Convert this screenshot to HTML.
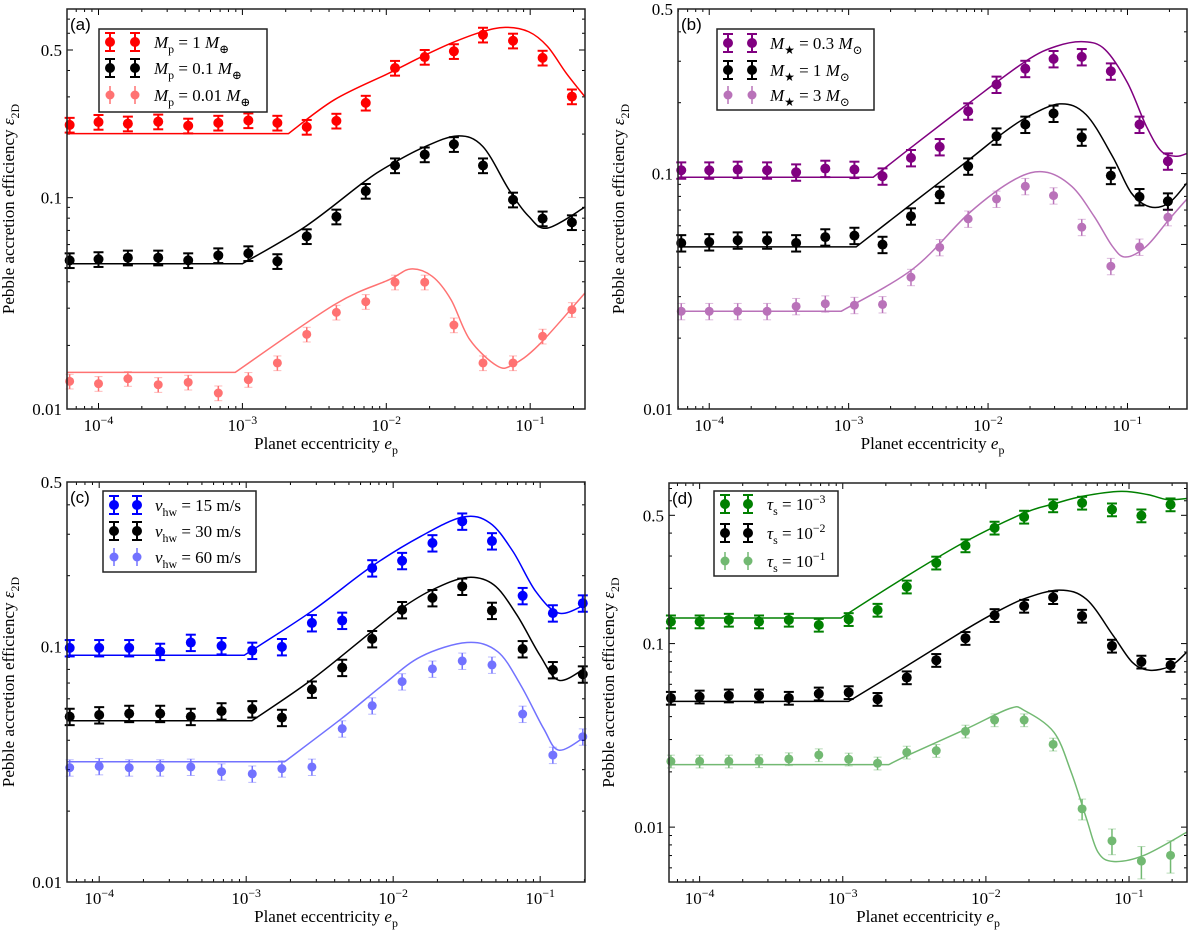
<!DOCTYPE html>
<html><head><meta charset="utf-8"><title>Pebble accretion efficiency</title>
<style>
html,body{margin:0;padding:0;background:#fff;}
svg{display:block;font-family:"Liberation Serif","DejaVu Serif",serif;}
</style></head>
<body>
<svg id="fig" width="1200" height="930" viewBox="0 0 1200 930" xmlns="http://www.w3.org/2000/svg"></svg>
<script>
// ---------- data ----------
const epsX = [6.3e-5,1.0e-4,1.6e-4,2.6e-4,4.2e-4,6.8e-4,1.1e-3,1.75e-3,2.8e-3,4.5e-3,7.2e-3,1.15e-2,1.85e-2,2.95e-2,4.7e-2,7.6e-2,1.22e-1,1.95e-1];

// panel a
const aRed = [0.221,0.228,0.224,0.229,0.219,0.226,0.232,0.226,0.216,0.231,0.281,0.411,0.463,0.493,0.590,0.553,0.459,0.301];
const aBlack = [0.0505,0.0511,0.052,0.052,0.0505,0.0533,0.0545,0.0500,0.0656,0.0813,0.1075,0.142,0.160,0.179,0.142,0.0978,0.0796,0.0764];
const aLight = [0.01352,0.01318,0.01392,0.01303,0.01337,0.0119,0.01377,0.01651,0.02256,0.02866,0.0322,0.0398,0.0398,0.02496,0.01651,0.01651,0.02208,0.0295];
const aRedCurveLogE = [-4.22,-2.68,-2.36,-1.98,-1.75,-1.545,-1.34,-1.174,-1.01,-0.88,-0.75,-0.619];
const aRedCurveVal = [0.201,0.201,0.291,0.389,0.466,0.540,0.608,0.640,0.610,0.520,0.389,0.300];
const aBlackCurveLogE = [-4.22,-3.0,-2.56,-2.16,-1.98,-1.75,-1.507,-1.33,-1.147,-1.01,-0.88,-0.619];
const aBlackCurveVal = [0.0487,0.0487,0.0732,0.118,0.142,0.172,0.196,0.175,0.109,0.0816,0.0718,0.0903];
const aLightCurveLogE = [-4.22,-3.05,-2.36,-1.98,-1.83,-1.68,-1.55,-1.42,-1.23,-1.12,-0.94,-0.619];
const aLightCurveVal = [0.01491,0.01491,0.0312,0.0409,0.046,0.0424,0.0329,0.0213,0.016,0.0162,0.0201,0.0354];

// panel b
const bPurple = [0.1033,0.1033,0.104,0.1033,0.1013,0.105,0.104,0.0974,0.1166,0.1298,0.184,0.239,0.279,0.307,0.313,0.272,0.1616,0.1128];
const bBlack = [0.0507,0.0512,0.0521,0.0521,0.0507,0.0537,0.0545,0.0499,0.0659,0.0814,0.1074,0.144,0.1616,0.180,0.1426,0.098,0.0796,0.0763];
const bLight = [0.026,0.026,0.026,0.026,0.0273,0.028,0.0276,0.0278,0.0363,0.0486,0.0642,0.078,0.0883,0.0806,0.0592,0.0404,0.0488,0.0652];
const bPurpleCurveLogE = [-4.23,-2.824,-2.54,-2.135,-1.73,-1.513,-1.31,-1.16,-1.0,-0.865,-0.757,-0.65,-0.573];
const bPurpleCurveVal = [0.0965,0.0965,0.1307,0.1996,0.300,0.347,0.363,0.336,0.243,0.159,0.1244,0.1185,0.1217];
const bBlackCurveLogE = [-4.23,-2.946,-2.54,-2.135,-1.924,-1.73,-1.486,-1.297,-1.108,-0.973,-0.838,-0.703,-0.573];
const bBlackCurveVal = [0.0488,0.0488,0.075,0.1147,0.144,0.1724,0.1977,0.178,0.1185,0.0828,0.0722,0.075,0.0913];
const bLightCurveLogE = [-4.23,-3.054,-2.54,-2.135,-1.81,-1.594,-1.40,-1.24,-1.108,-1.013,-0.865,-0.703,-0.573];
const bLightCurveVal = [0.026,0.026,0.0393,0.068,0.0943,0.1016,0.0883,0.0659,0.0491,0.0442,0.0491,0.0637,0.078];

// panel c
const cBlue = [0.0987,0.0987,0.0987,0.0952,0.104,0.1007,0.0962,0.0997,0.126,0.129,0.2155,0.2315,0.2753,0.3404,0.2807,0.1643,0.1387,0.1528];
const cBlack = [0.0504,0.0512,0.0519,0.0519,0.0504,0.0532,0.0543,0.0499,0.0658,0.0814,0.1078,0.1432,0.161,0.180,0.1422,0.0977,0.0796,0.0763];
const cLight = [0.0306,0.031,0.0306,0.0306,0.0308,0.0294,0.0288,0.0303,0.0308,0.0448,0.0561,0.071,0.0804,0.0869,0.0836,0.0517,0.0346,0.0414];
const cBlueCurveLogE = [-4.22,-3.013,-2.556,-2.146,-1.812,-1.525,-1.342,-1.186,-1.03,-0.873,-0.695];
const cBlueCurveVal = [0.0919,0.0919,0.141,0.219,0.294,0.355,0.335,0.254,0.1714,0.1387,0.1504];
const cBlackCurveLogE = [-4.22,-2.961,-2.556,-2.146,-1.942,-1.733,-1.498,-1.316,-1.159,-1.003,-0.873,-0.695];
const cBlackCurveVal = [0.0484,0.0484,0.0722,0.1158,0.1456,0.1743,0.1966,0.183,0.1364,0.0921,0.0719,0.0809];
const cLightCurveLogE = [-4.22,-2.739,-2.35,-2.07,-1.812,-1.498,-1.29,-1.133,-0.977,-0.873,-0.695];
const cLightCurveVal = [0.0324,0.0324,0.0495,0.0687,0.0906,0.104,0.0952,0.0687,0.0449,0.0363,0.0414];

// panel d
const dGreen = [0.1317,0.1317,0.1345,0.1317,0.1345,0.1263,0.1356,0.1524,0.204,0.2755,0.342,0.427,0.490,0.565,0.584,0.537,0.498,0.572];
const dBlack = [0.0505,0.0513,0.052,0.052,0.0505,0.0533,0.0542,0.0498,0.0653,0.0812,0.107,0.1426,0.1602,0.1786,0.1414,0.0971,0.0795,0.0763];
const dLight = [0.02284,0.02284,0.02284,0.02293,0.02351,0.02472,0.02342,0.02228,0.02555,0.02609,0.03326,0.03832,0.03832,0.02825,0.01258,0.00842,0.00653,0.00702];
const dLightErr = [0.08,0.08,0.08,0.08,0.08,0.08,0.08,0.08,0.08,0.08,0.08,0.08,0.08,0.08,0.13,0.16,0.2,0.2];
const dGreenCurveLogE = [-4.22,-3.013,-2.552,-2.139,-1.731,-1.525,-1.324,-1.056,-0.868,-0.734,-0.595];
const dGreenCurveVal = [0.1379,0.1379,0.2332,0.361,0.515,0.577,0.635,0.675,0.648,0.609,0.617];
const dBlackCurveLogE = [-4.22,-2.959,-2.552,-2.139,-1.935,-1.731,-1.485,-1.297,-1.109,-0.975,-0.855,-0.708,-0.595];
const dBlackCurveVal = [0.0484,0.0484,0.0756,0.1196,0.1474,0.1757,0.1957,0.1742,0.1101,0.0788,0.0716,0.0756,0.0901];
const dLightCurveLogE = [-4.22,-2.678,-2.552,-2.139,-1.834,-1.731,-1.525,-1.404,-1.297,-1.217,-1.109,-0.895,-0.595];
const dLightCurveVal = [0.02191,0.02191,0.02452,0.03424,0.0443,0.0432,0.0329,0.01991,0.0111,0.00731,0.0065,0.00702,0.0094];

const xTickExps = [-4,-3,-2,-1];
const yTickLabels = [0.01,0.1,0.5];

// ---------- drawing ----------
const NS = "http://www.w3.org/2000/svg";
const svg = document.getElementById('fig');
function el(tag, attrs, parent){
  const e = document.createElementNS(NS, tag);
  for (const k in attrs) e.setAttribute(k, attrs[k]);
  (parent||svg).appendChild(e);
  return e;
}
function makeText(parent, x, y, parts, size, anchor){
  const t = el('text', {x:x, y:y, 'font-size':size, 'text-anchor':anchor||'start', fill:'#000'}, parent);
  parts.forEach(p=>{
    const s = document.createElementNS(NS,'tspan');
    s.textContent = p.t;
    if (p.i) s.setAttribute('font-style','italic');
    if (p.sub){ s.setAttribute('font-size', size*0.7); s.setAttribute('dy', size*0.28); }
    if (p.sup){ s.setAttribute('font-size', size*0.7); s.setAttribute('dy', -size*0.42); }
    if (p.back){ s.setAttribute('dy', p.back); }
    t.appendChild(s);
  });
  return t;
}

function drawPanel(P){
  const g = el('g', {});
  
  
  const X = e => P.x0 + (Math.log10(e)-P.xl[0])/(P.xl[1]-P.xl[0])*P.w;
  const XL = l => P.x0 + (l-P.xl[0])/(P.xl[1]-P.xl[0])*P.w;
  const Y = v => P.y0 + P.h - (Math.log10(v)-P.yl[0])/(P.yl[1]-P.yl[0])*P.h;
  const clipId = 'clip'+P.id;
  const cp = el('clipPath', {id:clipId}, g);
  el('rect', {x:P.x0, y:P.y0, width:P.w, height:P.h}, cp);

  // ticks
  const tg = el('g', {stroke:'#000','stroke-width':1}, g);
  
  
  for (let d=-5; d<=0; d++){
    for (let m=1; m<=9; m++){
      const l = d + Math.log10(m);
      if (l < P.xl[0] || l > P.xl[1]) continue;
      const px = XL(l), len = m===1?6:3;
      el('line',{x1:px,y1:P.y0+P.h,x2:px,y2:P.y0+P.h-len},tg);
      el('line',{x1:px,y1:P.y0,x2:px,y2:P.y0+len},tg);
    }
  }
  const YLl = l => P.y0 + P.h - (l-P.yl[0])/(P.yl[1]-P.yl[0])*P.h;
  for (let d=-3; d<=0; d++){
    for (let m=1; m<=9; m++){
      const l = d + Math.log10(m);
      if (l < P.yl[0]-1e-6 || l > P.yl[1]+1e-6) continue;
      const py = YLl(l), len = (m===1||m===5)?6:3;
      el('line',{x1:P.x0,y1:py,x2:P.x0+len,y2:py},tg);
      el('line',{x1:P.x0+P.w,y1:py,x2:P.x0+P.w-len,y2:py},tg);
    }
  }
  // tick labels
  xTickExps.forEach(ex=>{
    const px = X(Math.pow(10,ex));
    const t = makeText(g, px, P.y0+P.h+22, [{t:'10'},{t:'−'+(-ex), sup:true}], 17, 'middle');
    
    
  });
  yTickLabels.forEach(v=>{
    const t = makeText(g, P.x0-5, Y(v)+6, [{t:String(v)}], 17, 'end');
    
    
  });
  // axis titles
  const xt = makeText(g, P.x0+P.w/2, P.y0+P.h+40, [{t:'Planet eccentricity '},{t:'e',i:true},{t:'p',sub:true}], 17, 'middle');
  
  
  const yt = makeText(g, 0, 0, [{t:'Pebble accretion efficiency '},{t:'ε',i:true},{t:'2D',sub:true}], 17, 'middle');
  yt.setAttribute('transform','translate('+P.ylx+','+(P.y0+P.h/2)+') rotate(-90)');
  
  

  // series
  P.series.forEach((s, si)=>{
    const sg = el('g', {opacity:s.alpha}, g);
    
    
    // curve
    const pts = s.cx.map((l,i)=>[XL(l), Y(s.cy[i])]);
    let d = 'M'+pts[0][0]+','+pts[0][1]+' L'+pts[1][0]+','+pts[1][1];
    for (let i=1;i<pts.length-1;i++){
      const p0 = pts[i===1?1:i-1], p1=pts[i], p2=pts[i+1], p3=pts[Math.min(i+2,pts.length-1)];
      const c1x = p1[0]+(p2[0]-p0[0])/6, c1y = p1[1]+(p2[1]-p0[1])/6;
      const c2x = p2[0]-(p3[0]-p1[0])/6, c2y = p2[1]-(p3[1]-p1[1])/6;
      d += ' C'+c1x+','+c1y+' '+c2x+','+c2y+' '+p2[0]+','+p2[1];
    }
    const path = el('path',{d:d, fill:'none', stroke:s.color, 'stroke-width':1.5, 'clip-path':'url(#'+clipId+')'}, sg);
    
    
    // points
    s.y.forEach((v,i)=>{
      const px = X(epsX[i]); const ef = s.err[i];
      const yTop = Y(v*(1+ef)), yBot = Y(v*(1-ef));
      const bar = el('line',{x1:px,y1:yTop,x2:px,y2:yBot,stroke:s.color,'stroke-width':s.light?1.5:2}, sg);
      
      
      const cw = s.light?4:5;
      el('line',{x1:px-cw,y1:yTop,x2:px+cw,y2:yTop,stroke:s.color,'stroke-width':s.light?1:2, opacity:s.light?0.5:1}, sg);
      el('line',{x1:px-cw,y1:yBot,x2:px+cw,y2:yBot,stroke:s.color,'stroke-width':s.light?1:2, opacity:s.light?0.5:1}, sg);
      const c = el('circle',{cx:px, cy:Y(v), r:s.light?4.5:5, fill:s.color}, sg);
      
      
    });
  });

  // frame
  const fr = el('rect',{x:P.x0,y:P.y0,width:P.w,height:P.h,fill:'none',stroke:'#222','stroke-width':1.5}, g);
  
  

  // panel label
  const pl = el('text',{x:P.x0+3, y:P.y0+21, 'font-size':17, 'font-family':'"Liberation Sans",sans-serif'}, g);
  pl.textContent = '('+P.id+')';
  
  

  // legend
  const L = P.legend;
  const lg = el('g',{}, g);
  
  
  el('rect',{x:L.x, y:L.y, width:L.w, height:L.h, fill:'#fff', stroke:'#222', 'stroke-width':1.5}, lg);
  P.series.forEach((s,i)=>{
    const ry = L.rows[i];
    const eg = el('g',{opacity:s.alpha}, lg);
    
    
    [L.m1, L.m2].forEach(mx=>{
      el('line',{x1:mx,y1:ry-9,x2:mx,y2:ry+9,stroke:s.color,'stroke-width':s.light?1.5:2}, eg);
      if (!s.light){
        el('line',{x1:mx-5,y1:ry-9,x2:mx+5,y2:ry-9,stroke:s.color,'stroke-width':2}, eg);
        el('line',{x1:mx-5,y1:ry+9,x2:mx+5,y2:ry+9,stroke:s.color,'stroke-width':2}, eg);
      }
      el('circle',{cx:mx, cy:ry, r:s.light?4.5:5, fill:s.color}, eg);
    });
    const lt = makeText(lg, L.tx, ry+6, s.label, 17, 'start');
    
    
  });
}

function cst(n,v){ return new Array(n).fill(v); }
const errDark = cst(18, 0.08), errLight = cst(18, 0.08);

const panels = [
 {id:'a', x0:67, y0:9, w:518, h:400, xl:[-4.219,-0.619], yl:[-2,-0.107], ylx:14,
  legend:{x:99,y:29,w:168,h:83,m1:110,m2:135,tx:154,rows:[42,68,95]},
  series:[
   {key:'mp1', y:aRed, err:errDark, color:'#ff0000', alpha:1, light:false, cx:aRedCurveLogE, cy:aRedCurveVal,
    label:[{t:'M',i:true},{t:'p',sub:true},{t:' = 1 ',back:-4.76},{t:'M',i:true},{t:'⊕',sub:true}]},
   {key:'mp01', y:aBlack, err:errDark, color:'#000000', alpha:1, light:false, cx:aBlackCurveLogE, cy:aBlackCurveVal,
    label:[{t:'M',i:true},{t:'p',sub:true},{t:' = 0.1 ',back:-4.76},{t:'M',i:true},{t:'⊕',sub:true}]},
   {key:'mp001', y:aLight, err:errLight, color:'#ff0000', alpha:0.55, light:true, cx:aLightCurveLogE, cy:aLightCurveVal,
    label:[{t:'M',i:true},{t:'p',sub:true},{t:' = 0.01 ',back:-4.76},{t:'M',i:true},{t:'⊕',sub:true}]}
  ]},
 {id:'b', x0:678, y0:9, w:509, h:400, xl:[-4.224,-0.573], yl:[-2,-0.301], ylx:624,
  legend:{x:717,y:29,w:157,h:81,m1:728,m2:752,tx:770,rows:[43,70,95]},
  series:[
   {key:'ms03', y:bPurple, err:errDark, color:'#800080', alpha:1, light:false, cx:bPurpleCurveLogE, cy:bPurpleCurveVal,
    label:[{t:'M',i:true},{t:'★',sub:true},{t:' = 0.3 ',back:-4.76},{t:'M',i:true},{t:'⊙',sub:true}]},
   {key:'ms1', y:bBlack, err:errDark, color:'#000000', alpha:1, light:false, cx:bBlackCurveLogE, cy:bBlackCurveVal,
    label:[{t:'M',i:true},{t:'★',sub:true},{t:' = 1 ',back:-4.76},{t:'M',i:true},{t:'⊙',sub:true}]},
   {key:'ms3', y:bLight, err:errLight, color:'#800080', alpha:0.55, light:true, cx:bLightCurveLogE, cy:bLightCurveVal,
    label:[{t:'M',i:true},{t:'★',sub:true},{t:' = 3 ',back:-4.76},{t:'M',i:true},{t:'⊙',sub:true}]}
  ]},
 {id:'c', x0:67, y0:482, w:518, h:400, xl:[-4.219,-0.695], yl:[-2,-0.301], ylx:14,
  legend:{x:103,y:491,w:153,h:81,m1:114,m2:137,tx:155,rows:[505,531,557]},
  series:[
   {key:'v15', y:cBlue, err:errDark, color:'#0000ff', alpha:1, light:false, cx:cBlueCurveLogE, cy:cBlueCurveVal,
    label:[{t:'v',i:true},{t:'hw',sub:true},{t:' = 15 m/s',back:-4.76}]},
   {key:'v30', y:cBlack, err:errDark, color:'#000000', alpha:1, light:false, cx:cBlackCurveLogE, cy:cBlackCurveVal,
    label:[{t:'v',i:true},{t:'hw',sub:true},{t:' = 30 m/s',back:-4.76}]},
   {key:'v60', y:cLight, err:errLight, color:'#0000ff', alpha:0.55, light:true, cx:cLightCurveLogE, cy:cLightCurveVal,
    label:[{t:'v',i:true},{t:'hw',sub:true},{t:' = 60 m/s',back:-4.76}]}
  ]},
 {id:'d', x0:669, y0:483, w:518, h:399, xl:[-4.214,-0.595], yl:[-2.299,-0.125], ylx:614,
  legend:{x:714,y:491,w:124,h:85,m1:725,m2:748,tx:767,rows:[504,533,561]},
  series:[
   {key:'t3', y:dGreen, err:errDark, color:'#008000', alpha:1, light:false, cx:dGreenCurveLogE, cy:dGreenCurveVal,
    label:[{t:'τ',i:true},{t:'s',sub:true},{t:' = 10',back:-4.76},{t:'−3',sup:true}]},
   {key:'t2', y:dBlack, err:errDark, color:'#000000', alpha:1, light:false, cx:dBlackCurveLogE, cy:dBlackCurveVal,
    label:[{t:'τ',i:true},{t:'s',sub:true},{t:' = 10',back:-4.76},{t:'−2',sup:true}]},
   {key:'t1', y:dLight, err:dLightErr, color:'#008000', alpha:0.55, light:true, cx:dLightCurveLogE, cy:dLightCurveVal,
    label:[{t:'τ',i:true},{t:'s',sub:true},{t:' = 10',back:-4.76},{t:'−1',sup:true}]}
  ]}
];
panels.forEach(drawPanel);
</script>
</body></html>
